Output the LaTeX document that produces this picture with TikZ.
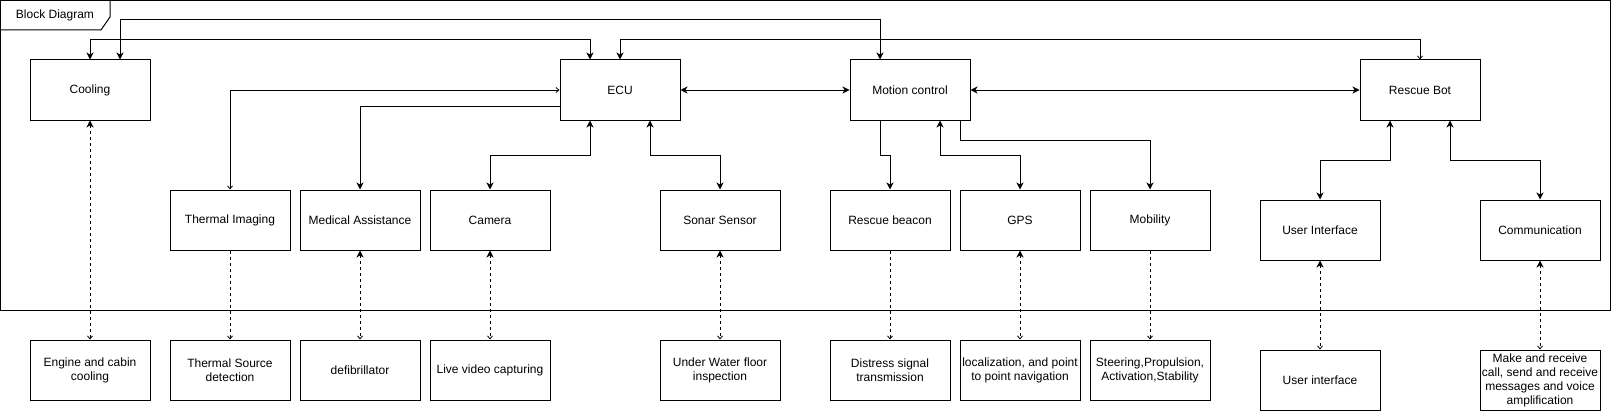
\documentclass[tikz,border=0pt]{standalone}
\usepackage{fontspec}
\setmainfont{Liberation Sans}
\usetikzlibrary{arrows.meta}
\newcommand{\fsz}{\fontsize{12pt}{14pt}\selectfont}
\tikzset{
  fil/.tip={Stealth[length=7pt,width=7pt,inset=2pt]},
  opn/.tip={Straight Barb[length=3pt,width=5pt,line width=0.8pt]},
  box/.style={draw, line width=1pt, minimum width=120pt, minimum height=60pt, inner sep=0pt, align=center, font=\fsz},
  con/.style={line width=1pt},
  dsh/.style={line width=1pt, dash pattern=on 3pt off 3pt},
}
\begin{document}
\begin{tikzpicture}[x=1pt,y=-1pt]
\useasboundingbox (0,0) rectangle (1612,412);
% frame
\draw[line width=1pt] (0.5,0.5) rectangle (1610,310);
\draw[line width=1pt] (0.5,30) -- (101,30) -- (110,17) -- (110,0.5);
\node[font=\fsz, inner sep=0pt] (title) at (55,15.5) {Block Diagram};
% top row
\node[box] (cool) at (90,90) {Cooling};
\node[box] (ecu) at (620,90) {ECU};
\node[box] (mot) at (910,90) {Motion control};
\node[box] (rb) at (1420,90) {Rescue Bot};
% middle row
\node[box] (ti) at (230,220) {Thermal Imaging};
\node[box] (ma) at (360,220) {Medical Assistance};
\node[box] (cam) at (490,220) {Camera};
\node[box] (son) at (720,220) {Sonar Sensor};
\node[box] (bea) at (890,220) {Rescue beacon};
\node[box] (gps) at (1020,220) {GPS};
\node[box] (mob) at (1150,220) {Mobility};
\node[box] (ui) at (1320,230) {User Interface};
\node[box] (com) at (1540,230) {Communication};
% bottom row
\node[box] (eng) at (90,370) {Engine and cabin\\cooling};
\node[box] (tsd) at (230,370) {Thermal Source\\detection};
\node[box] (def) at (360,370) {defibrillator};
\node[box] (live) at (490,370) {Live video capturing};
\node[box] (uw) at (720,370) {Under Water floor\\inspection};
\node[box] (dis) at (890,370) {Distress signal\\transmission};
\node[box] (loc) at (1020,370) {localization, and point\\to point navigation};
\node[box] (ste) at (1150,370) {Steering,Propulsion,\\Activation,Stability};
\node[box] (ui2) at (1320,380) {User interface};
\node[box] (mk) at (1540,380) {Make and receive\\call, send and receive\\messages and voice\\amplification};
% solid connectors
\draw[con,{fil}-{fil}] ([xshift=30pt]cool.north) -- ++(0,-40) -| ([xshift=-30pt]mot.north);
\draw[con,{fil}-{fil}] (cool.north) -- ++(0,-20) -| ([xshift=-30pt]ecu.north);
\draw[con,{fil}-{opn}] (ecu.north) -- ++(0,-20) -| (rb.north);
\draw[con,{opn}-{opn}] (ecu.west) -| (ti.north);
\draw[con,-{fil}] ([yshift=-16pt]ecu.west) -| (ma.north);
\draw[con,{fil}-{fil}] ([xshift=-30pt]ecu.south) -- ++(0,35) -| (cam.north);
\draw[con,{fil}-{fil}] ([xshift=30pt]ecu.south) -- ++(0,35) -| (son.north);
\draw[con,{fil}-{fil}] (ecu) -- (mot);
\draw[con,{fil}-{fil}] (mot) -- (rb);
\draw[con,-{fil}] ([xshift=-30pt]mot.south) -- ++(0,35) -| (bea.north);
\draw[con,{fil}-{fil}] ([xshift=30pt]mot.south) -- ++(0,35) -| (gps.north);
\draw[con,-{fil}] ([xshift=50pt]mot.south) -- ++(0,20) -| (mob.north);
\draw[con,{fil}-{fil}] ([xshift=-30pt]rb.south) -- ++(0,40) -| (ui.north);
\draw[con,{fil}-{fil}] ([xshift=30pt]rb.south) -- ++(0,40) -| (com.north);
% dashed connectors
\draw[dsh,{fil}-{opn}] (cool) -- (eng);
\draw[dsh,-{opn}] (ti) -- (tsd);
\draw[dsh,{fil}-{opn}] (ma) -- (def);
\draw[dsh,{fil}-{opn}] (cam) -- (live);
\draw[dsh,{fil}-{opn}] (son) -- (uw);
\draw[dsh,-{opn}] (bea) -- (dis);
\draw[dsh,{fil}-{opn}] (gps) -- (loc);
\draw[dsh,-{opn}] (mob) -- (ste);
\draw[dsh,{fil}-{opn}] (ui) -- (ui2);
\draw[dsh,{fil}-{opn}] (com) -- (mk);
\end{tikzpicture}
\end{document}
